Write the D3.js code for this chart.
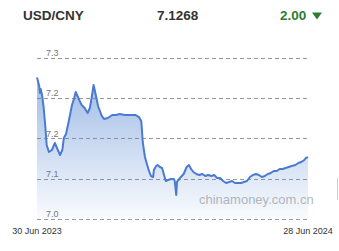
<!doctype html>
<html>
<head>
<meta charset="utf-8">
<script src="https://cdn.jsdelivr.net/npm/d3@7"></script>
<style>
  html, body { margin: 0; padding: 0; background: #fff; }
  svg { display: block; font-family: "Liberation Sans", Arial, sans-serif; }
</style>
</head>
<body>
<svg id="chart" width="339" height="251"></svg>
<script>
  // header figures
  var pair = 'USD/CNY';
  var lastRate = '7.1268';
  var change = '2.00';

  // days after 30 Jun 2023
  var dayOffsets = [0, 3, 4, 5, 7, 9, 11, 13, 16, 20, 24, 28, 31, 34, 36, 39, 43, 47, 50, 52,
    55, 58, 60, 64, 68, 71, 74, 76, 79, 82, 85, 87, 90, 95, 101, 106, 111, 118, 125, 132,
    137, 140, 141, 142, 145, 148, 150, 153, 156, 157, 160, 162, 165, 168, 171, 173, 176, 180, 184, 185,
    187, 188, 192, 197, 201, 204, 207, 210, 214, 218, 222, 226, 230, 234, 238, 242, 246, 250, 254, 258,
    262, 266, 270, 274, 278, 282, 286, 290, 294, 298, 302, 306, 310, 314, 318, 322, 326, 330, 334, 338,
    342, 347, 351, 355, 359, 361, 364];
  var rates = [7.2258, 7.2152, 7.2065, 7.2115, 7.2028, 7.1879, 7.1668, 7.1419, 7.1332, 7.1357,
    7.1444, 7.1357, 7.1295, 7.1357, 7.1506, 7.1556, 7.1730, 7.1916, 7.2003, 7.2078,
    7.2016, 7.1953, 7.1916, 7.1879, 7.1817, 7.1879, 7.2040, 7.2165, 7.2040, 7.1904,
    7.1829, 7.1780, 7.1742, 7.1755, 7.1792, 7.1792, 7.1804, 7.1792, 7.1792, 7.1792,
    7.1767, 7.1717, 7.1606, 7.1457, 7.1270, 7.1171, 7.1109, 7.1034, 7.1022, 7.1109,
    7.1158, 7.1171, 7.1146, 7.1134, 7.1034, 7.0972, 7.0984, 7.0997, 7.0997, 7.0972,
    7.0798, 7.0960, 7.1009, 7.1059, 7.1146, 7.1171, 7.1121, 7.1084, 7.1059, 7.1047,
    7.1059, 7.1034, 7.1047, 7.1034, 7.1047, 7.1009, 7.1009, 7.0972, 7.0947, 7.0960,
    7.0972, 7.0947, 7.0947, 7.0947, 7.0960, 7.0972, 7.1022, 7.1047, 7.1059, 7.1047,
    7.1022, 7.1034, 7.1059, 7.1071, 7.1096, 7.1096, 7.1121, 7.1121, 7.1134, 7.1146,
    7.1158, 7.1171, 7.1196, 7.1208, 7.1233, 7.1258, 7.1268];

  var yTicks = [7.05, 7.10, 7.15, 7.20, 7.25];
  var dateLabels = ['30 Jun 2023', '28 Jun 2024'];

  var startDate = new Date(2023, 5, 30);
  var endDate = new Date(2024, 5, 28);
  var data = dayOffsets.map(function (d, i) {
    return { date: d3.timeDay.offset(startDate, d), rate: rates[i] };
  });

  var svg = d3.select('#chart');

  var x = d3.scaleTime().domain([startDate, endDate]).range([37, 308]);
  var y = d3.scaleLinear().domain([7.05, 7.25]).range([219, 58]);

  // header
  svg.append('text').attr('x', 23).attr('y', 20)
    .attr('font-size', 13.5).attr('font-weight', 'bold').attr('fill', '#333')
    .text(pair);
  svg.append('text').attr('x', 157).attr('y', 20)
    .attr('font-size', 13.5).attr('font-weight', 'bold').attr('fill', '#333')
    .text(lastRate);
  svg.append('text').attr('x', 280).attr('y', 20)
    .attr('font-size', 13.5).attr('font-weight', 'bold').attr('fill', '#2e7d32')
    .text(change);
  svg.append('path').attr('d', 'M312,12.5L322,12.5L317,19.5Z').attr('fill', '#2e7d32');

  var defs = svg.append('defs');
  var grad = defs.append('linearGradient').attr('id', 'fillGrad')
    .attr('gradientUnits', 'userSpaceOnUse')
    .attr('x1', 0).attr('x2', 0).attr('y1', y(7.25)).attr('y2', y(7.05));
  grad.append('stop').attr('offset', 0).attr('stop-color', '#4a7fd0').attr('stop-opacity', 0.6);
  grad.append('stop').attr('offset', 1).attr('stop-color', '#4a7fd0').attr('stop-opacity', 0.03);

  // grid + tick labels (under the fill)
  svg.append('g').selectAll('line').data(yTicks).enter().append('line')
    .attr('x1', 37).attr('x2', 309)
    .attr('y1', function (d) { return Math.round(y(d)) + 0.5; })
    .attr('y2', function (d) { return Math.round(y(d)) + 0.5; })
    .attr('stroke', '#999').attr('stroke-dasharray', '4,3');

  svg.append('g').selectAll('text').data(yTicks).enter().append('text')
    .attr('x', 46).attr('y', function (d) { return y(d) - 2; })
    .attr('font-size', 9).attr('fill', '#777')
    .text(function (d) { return d.toFixed(1); });

  // watermark
  svg.append('text').attr('x', 199).attr('y', 204)
    .attr('font-size', 13).attr('fill', '#bbb')
    .text('chinamoney.com.cn');

  var area = d3.area()
    .x(function (d) { return x(d.date); })
    .y0(y(7.05))
    .y1(function (d) { return y(d.rate); });

  var line = d3.line()
    .x(function (d) { return x(d.date); })
    .y(function (d) { return y(d.rate); });

  svg.append('path').datum(data).attr('d', area).attr('fill', 'url(#fillGrad)');
  svg.append('path').datum(data).attr('d', line)
    .attr('fill', 'none').attr('stroke', '#4a7bd0').attr('stroke-width', 2)
    .attr('stroke-linejoin', 'round');

  // date labels at both ends
  svg.append('g').selectAll('text').data([startDate, endDate]).enter().append('text')
    .attr('x', function (d) { return x(d); }).attr('y', 234)
    .attr('text-anchor', 'middle').attr('font-size', 9).attr('fill', '#333')
    .text(function (d, i) { return dateLabels[i]; });

  svg.append('rect').attr('x', 337).attr('y', 178).attr('width', 1).attr('height', 22).attr('fill', '#ccc');
</script>
</body>
</html>
